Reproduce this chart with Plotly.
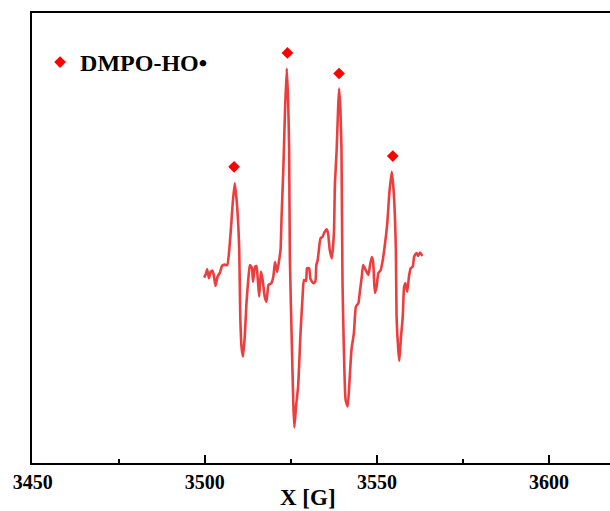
import plotly.graph_objects as go

# Magnetic field (G)
field = [3499.8, 3500.3, 3500.7, 3501.2, 3501.7, 3502.2, 3502.6, 3503.1, 3503.7, 3504.4,
         3505.0, 3505.8, 3506.5, 3507.1, 3507.6, 3508.1, 3508.7, 3509.4, 3510.0, 3510.3,
         3510.7, 3511.1, 3511.6, 3512.1, 3512.7, 3513.1, 3513.7, 3514.0, 3514.6, 3515.0,
         3515.4, 3515.8, 3516.3, 3516.8, 3517.4, 3517.9, 3518.5, 3519.3, 3519.9, 3520.4,
         3521.0, 3521.6, 3522.0, 3522.3, 3522.8, 3523.3, 3523.8, 3524.2, 3524.5, 3524.7,
         3525.2, 3525.7, 3526.0, 3526.5, 3527.1, 3527.8, 3528.4, 3528.8, 3529.4, 3529.7,
         3530.3, 3530.7, 3531.5, 3532.1, 3532.4, 3532.8, 3533.6, 3534.2, 3534.7, 3535.4,
         3535.8, 3536.3, 3536.9, 3537.5, 3537.8, 3538.3, 3538.7, 3539.0, 3539.4, 3539.7,
         3540.0, 3540.4, 3540.9, 3541.5, 3542.0, 3542.6, 3543.3, 3543.9, 3544.6, 3545.1,
         3545.6, 3546.0, 3547.0, 3547.5, 3548.0, 3548.5, 3548.9, 3549.4, 3549.9, 3550.4,
         3551.1, 3551.7, 3552.3, 3553.0, 3553.6, 3554.3, 3554.9, 3555.5, 3555.7, 3556.2,
         3556.5, 3557.0, 3557.5, 3557.9, 3558.3, 3558.8, 3559.3, 3559.8, 3560.4, 3560.8,
         3561.5, 3562.0, 3562.5, 3563.2]

# EPR intensity (a.u.)
intensity = [-7.7, -4, 0.7, -8.3, -1.7, -0.7, -5, -16, -6.7, -2.7,
             4, 5.3, 4.7, 20, 41.7, 66.7, 86.7, 63.3, 20, -46.7,
             -78.3, -86.7, -66.7, -33.3, -6.7, 5, 1.7, -11.7, 3.3, 4,
             -10, -26.7, -1.7, -10, -26.7, -31.7, -15, -13.3, -6.7, 8,
             -2, 10, 20, 53.3, 100, 160, 201.7, 170, 120, 13.3,
             -63, -133, -157.7, -136.7, -116.7, -63.3, -26.7, -10, -11, 1.7,
             1.7, -9, -13.3, -11.7, 5, 10, 31.7, 33.3, 37.3, 40.7,
             36.7, 20, 11.7, 36.7, 86.7, 120, 160, 181.7, 160, 120,
             -13.3, -80, -130, -136.7, -113.3, -80, -63.3, -36.7, -33.3, -20,
             -6.7, 5, -2, -5, 5, 13, 8, -23, -16.7, -3.3,
             0, 10, 25, 46.7, 76.7, 98.3, 76.7, 20, -46.7, -80,
             -91, -66.7, -46.7, -16.7, -13.3, -21.7, -6.7, 1.7, 3.3, 13.3,
             17, 14, 17.5, 14]

# DMPO-HO• peak markers
peak_field = [3508.5, 3524.0, 3539.0, 3554.6]
peak_int = [103.3, 217.3, 196.7, 114.0]

tick_vals = [3450, 3500, 3550, 3600]
tick_text = ["3450", "3500", "3550", "3600"]

fig = go.Figure()
fig.add_trace(go.Scatter(x=field, y=intensity, mode="lines",
                         line=dict(color="rgb(236,62,62)", width=2.6, shape="spline", smoothing=0.5),
                         showlegend=False))
fig.add_trace(go.Scatter(x=peak_field, y=peak_int, mode="markers",
                         marker=dict(symbol="diamond", size=9, color="#ff0000"),
                         name="DMPO-HO•", showlegend=True))

fig.update_layout(
    width=610, height=511,
    margin=dict(l=32, r=0, t=13, b=48),
    paper_bgcolor="white", plot_bgcolor="white",
    font=dict(family="Liberation Serif", color="black"),
    legend=dict(x=0.014, y=0.94, xanchor="left", yanchor="top",
                bgcolor="rgba(0,0,0,0)", borderwidth=0, itemwidth=30,
                font=dict(family="Liberation Serif", size=24, weight="bold", color="black")),
    annotations=[dict(text="<b>X [G]</b>", xref="paper", yref="paper",
                      x=0.4775, y=-0.077, xanchor="center", yanchor="middle",
                      showarrow=False,
                      font=dict(family="Liberation Serif", size=23, color="black"))],
)
fig.update_xaxes(range=[3449.8, 3617.7], tickvals=tick_vals, ticktext=tick_text,
                 ticks="inside", ticklen=8, tickwidth=1.5, tickcolor="black",
                 minor=dict(dtick=25, tick0=3450, ticks="inside", ticklen=4, tickwidth=1.5, tickcolor="black"),
                 showline=True, linewidth=2, linecolor="black", mirror=True,
                 showgrid=False, zeroline=False,
                 tickfont=dict(family="Liberation Serif", size=20, weight="bold", color="black"))
fig.update_yaxes(range=[-193.3, 257.3], showticklabels=False, ticks="",
                 showline=True, linewidth=2, linecolor="black",
                 showgrid=False, zeroline=False)

fig.write_html("out.html")
